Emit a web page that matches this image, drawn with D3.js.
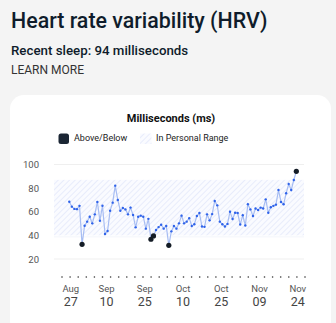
<!DOCTYPE html>
<html><head><meta charset="utf-8">
<script src="https://cdn.jsdelivr.net/npm/d3@7"></script>
<style>
html,body{margin:0;padding:0;background:#f4f4f4;}
svg{display:block;font-family:Roboto, "Noto Sans", sans-serif;}
</style></head>
<body>
<svg id="c" width="336" height="323"></svg>
<script>
// ---- data ----
const startDate = "2023-08-27";
const hrvValues = [
  68.5, 64.3, 62.4, 62.2, 65, 32.4, 48.2, 51.6, 55.8, 50.2,
  57.8, 68.3, 52.4, 65.1, 41.2, 43.7, 60.9, 67.7, 82.1, 70,
  60.9, 63.2, 62, 57.8, 63.5, 57.2, 46.8, 55.8, 56.7, 55.8,
  45.7, 54, 36.7, 39.5, 44.5, 47, 49, 45.7, 48, 31.6,
  43.4, 48, 45.7, 50.2, 56.7, 50.2, 51.6, 54.6, 48, 49.4,
  56.4, 58.9, 47.5, 47.2, 57.8, 52.7, 58, 69.1, 65.4, 51.6,
  49.4, 47.5, 49.7, 60, 53.8, 59.2, 58.9, 49.2, 57, 48.3,
  66.3, 62, 56.4, 62.8, 61.5, 63.5, 62.8, 70.5, 59.2, 63.8,
  65, 66, 78.4, 68.3, 66.3, 75.6, 83.5, 78.4, 86.9, 94.2
];
const personalRange = [40, 87];
const yTicks = [20, 40, 60, 80, 100];
const xTickDates = ["2023-08-27","2023-09-10","2023-09-25","2023-10-10","2023-10-25","2023-11-09","2023-11-24"];
const xDomain = ["2023-08-21","2023-11-27"];
const legendItems = ["Above/Below", "In Personal Range"];

// ---- setup ----
const parse = d3.utcParse("%Y-%m-%d");
const data = hrvValues.map((v,i)=>({date:d3.utcDay.offset(parse(startDate), i), v}));
const svg = d3.select("#c");

// pattern
const defs = svg.append("defs");
const pat = defs.append("pattern").attr("id","hatch").attr("patternUnits","userSpaceOnUse")
  .attr("width",4).attr("height",4).attr("patternTransform","rotate(45)");
pat.append("rect").attr("width",4).attr("height",4).attr("fill","#fafbff");
pat.append("line").attr("x1",0).attr("y1",0).attr("x2",0).attr("y2",4)
  .attr("stroke","#e2e8fa").attr("stroke-width",1.5);

// header texts
svg.append("text").attr("x",11).attr("y",28).attr("font-size",21.4).attr("font-weight",500)
  .attr("fill","#0f1c2b").text("Heart rate variability (HRV)");
svg.append("text").attr("x",11).attr("y",55).attr("font-size",13.3).attr("font-weight",500)
  .attr("fill","#0f1c2b").text("Recent sleep: 94 milliseconds");
svg.append("text").attr("x",11).attr("y",74).attr("font-size",12).attr("font-weight",400)
  .attr("fill","#333").text("LEARN MORE");

// card
svg.append("rect").attr("x",10).attr("y",95).attr("width",321).attr("height",240)
  .attr("rx",14).attr("fill","#ffffff");

svg.append("text").attr("x",171).attr("y",122).attr("text-anchor","middle")
  .attr("font-size",11).attr("font-weight",700).attr("fill","#111").text("Milliseconds (ms)");

// legend
const lg = svg.append("g");
lg.append("rect").attr("x",58.5).attr("y",133.5).attr("width",10.5).attr("height",10.5).attr("rx",2.5).attr("fill","#1b2634");
lg.append("text").attr("x",74).attr("y",140.5).attr("font-size",9).attr("fill","#222").text(legendItems[0]);
lg.append("rect").attr("x",140).attr("y",133.5).attr("width",11.5).attr("height",10.5).attr("fill","url(#hatch)");
lg.append("text").attr("x",156).attr("y",140.5).attr("font-size",9).attr("fill","#222").text(legendItems[1]);

// scales
const x = d3.scaleUtc().domain(xDomain.map(parse)).range([54, 304]);
const y = d3.scaleLinear().domain([20, 100]).range([259, 164.5]);

// band
svg.append("rect").attr("x",x.range()[0]).attr("width",x.range()[1]-x.range()[0])
  .attr("y",y(personalRange[1])).attr("height",y(personalRange[0])-y(personalRange[1]))
  .attr("fill","url(#hatch)");

// grid lines at 100 and 20
svg.append("g").selectAll("line").data([20,100]).join("line")
  .attr("x1",x.range()[0]).attr("x2",x.range()[1]).attr("y1",d=>y(d)).attr("y2",d=>y(d))
  .attr("stroke","#efefef").attr("stroke-width",1);
svg.append("line").attr("x1",x.range()[0]).attr("x2",x.range()[1])
  .attr("y1",y(personalRange[0])+1.5).attr("y2",y(personalRange[0])+1.5).attr("stroke","#f3f5fb");

// y axis labels
const yAxis = d3.axisLeft(y).tickValues(yTicks).tickSize(0).tickPadding(0);
const yg = svg.append("g").attr("transform","translate(39,0)").call(yAxis);
yg.select(".domain").remove();
yg.selectAll("text").attr("font-size",9.5).attr("fill","#555").attr("font-family","Roboto, sans-serif");

// line
svg.append("path").datum(data)
  .attr("d", d3.line().x(d=>x(d.date)).y(d=>y(d.v)))
  .attr("fill","none").attr("stroke","#a7bdf3").attr("stroke-width",1.2);

const out = d=> d.v < personalRange[0] || d.v > personalRange[1];
svg.append("g").selectAll("circle").data(data.filter(d=>!out(d))).join("circle")
  .attr("cx",d=>x(d.date)).attr("cy",d=>y(d.v)).attr("r",1.2).attr("fill","#2f63ea");
svg.append("g").selectAll("circle").data(data.filter(out)).join("circle")
  .attr("cx",d=>x(d.date)).attr("cy",d=>y(d.v)).attr("r",2.6).attr("fill","#141c26");

// dotted axis row
const dotScale = d3.scaleLinear().domain([0,30]).range([x.range()[0]+8, x.range()[1]+1]);
svg.append("g").selectAll("circle").data(d3.range(31)).join("circle")
  .attr("cx",d=>dotScale(d)).attr("cy",277).attr("r",0.8).attr("fill","#333");

// x labels
const fmtM = d3.utcFormat("%b"), fmtD = d3.utcFormat("%d");
const xl = svg.append("g").selectAll("g").data(xTickDates.map(parse)).join("g")
  .attr("transform",d=>`translate(${x(d)+1.5},0)`);
xl.append("text").attr("y",291.5).attr("text-anchor","middle").attr("font-size",9.5).attr("fill","#555").text(fmtM);
xl.append("text").attr("y",305.5).attr("text-anchor","middle").attr("font-size",12.5).attr("fill","#444").text(fmtD);
</script>
</body></html>
